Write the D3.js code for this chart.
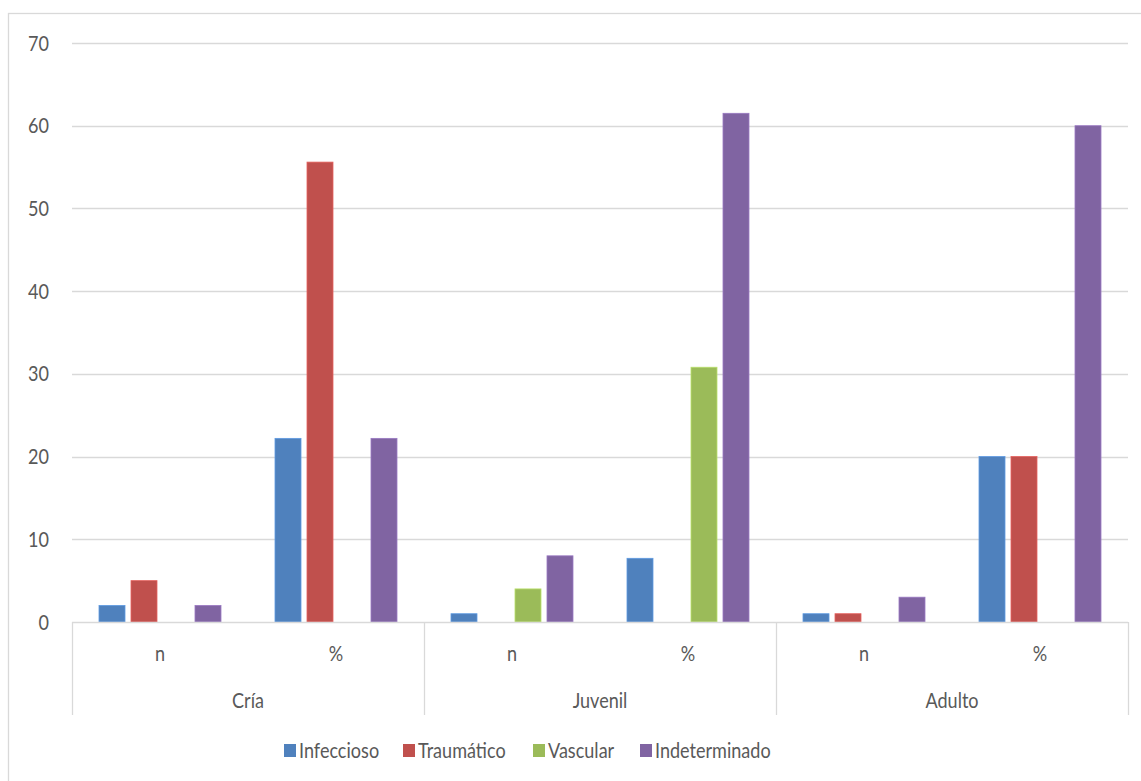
<!DOCTYPE html>
<html>
<head>
<meta charset="utf-8">
<script src="https://cdn.jsdelivr.net/npm/d3@7"></script>
<style>
  html, body { margin: 0; padding: 0; background: #fff; }
  svg { display: block; }
  text { font-family: Lato, "Open Sans", sans-serif; fill: #595959; }
</style>
</head>
<body>
<svg id="chart" width="1141" height="781"></svg>
<script>
// Age groups, each split into count (n) and percentage (%)
const groups = ["Cría", "Juvenil", "Adulto"];
const measures = ["n", "%"];
const series = ["Infeccioso", "Traumático", "Vascular", "Indeterminado"];
const colors = ["#4F81BD", "#C0504D", "#9BBB59", "#8064A2"];

// Values per series, ordered Cría n, Cría %, Juvenil n, Juvenil %, Adulto n, Adulto %
const infeccioso    = [2, 22.2, 1, 7.7, 1, 20];
const traumatico    = [5, 55.6, 0, 0, 1, 20];
const vascular      = [0, 0, 4, 30.8, 0, 0];
const indeterminado = [2, 22.2, 8, 61.5, 3, 60];

const yTicks = [0, 10, 20, 30, 40, 50, 60, 70];

const seriesValues = [infeccioso, traumatico, vascular, indeterminado];

const FONT = 21;
const NARROW = 0.86; // condense glyphs horizontally
const place = (x, y) => `translate(${x},${y}) scale(${NARROW},1)`;

const svg = d3.select("#chart");

// Outer chart frame
svg.append("rect")
  .attr("x", 8.5).attr("y", 13.5)
  .attr("width", 1145).attr("height", 780)
  .attr("fill", "none").attr("stroke", "#d9d9d9").attr("stroke-width", 1.3);

const plot = { left: 72, right: 1128, top: 43, bottom: 622 };

const y = d3.scaleLinear().domain([0, 70]).range([plot.bottom, plot.top]);

const xGroup = d3.scaleBand().domain(groups).range([plot.left, plot.right]);
const xMeasure = d3.scaleBand().domain(measures).range([0, xGroup.bandwidth()]);
const xSeries = d3.scaleBand().domain(series).range([0, xMeasure.bandwidth()])
  .paddingInner(0.1875).paddingOuter(0.84375);

// Horizontal gridlines
svg.append("g")
  .selectAll("line")
  .data(yTicks.filter(t => t > 0))
  .join("line")
  .attr("x1", plot.left).attr("x2", plot.right)
  .attr("y1", d => Math.round(y(d)) + 0.5).attr("y2", d => Math.round(y(d)) + 0.5)
  .attr("stroke", "#d9d9d9").attr("stroke-width", 1.3);

// Y axis labels
svg.append("g")
  .selectAll("text")
  .data(yTicks)
  .join("text")
  .attr("transform", d => place(49, y(d)))
  .attr("dy", "0.36em")
  .attr("text-anchor", "end")
  .attr("font-size", FONT)
  .text(d => d);

// Build flat list of bars
const bars = [];
groups.forEach((g, gi) => {
  measures.forEach((m, mi) => {
    const idx = gi * measures.length + mi;
    series.forEach((s, si) => {
      bars.push({ group: g, measure: m, series: s, color: colors[si], value: seriesValues[si][idx] });
    });
  });
});

svg.append("g")
  .selectAll("rect")
  .data(bars.filter(d => d.value > 0))
  .join("rect")
  .attr("x", d => xGroup(d.group) + xMeasure(d.measure) + xSeries(d.series))
  .attr("y", d => y(d.value))
  .attr("width", xSeries.bandwidth())
  .attr("height", d => y(0) - y(d.value))
  .attr("fill", d => d.color)
  .attr("stroke", d => d3.color(d.color).brighter(0.5))
  .attr("stroke-width", 0.8);

// Category axis baseline
svg.append("line")
  .attr("x1", plot.left).attr("x2", plot.right)
  .attr("y1", plot.bottom + 0.5).attr("y2", plot.bottom + 0.5)
  .attr("stroke", "#d9d9d9").attr("stroke-width", 1.3);

// Group dividers
const dividers = groups.map(g => xGroup(g)).concat([plot.right]);
svg.append("g")
  .selectAll("line")
  .data(dividers)
  .join("line")
  .attr("x1", d => Math.round(d) + 0.5).attr("x2", d => Math.round(d) + 0.5)
  .attr("y1", plot.bottom).attr("y2", 715)
  .attr("stroke", "#d9d9d9").attr("stroke-width", 1.3);

// Measure labels (n / %)
const measureLabels = [];
groups.forEach(g => measures.forEach(m => measureLabels.push({ g, m })));
svg.append("g")
  .selectAll("text")
  .data(measureLabels)
  .join("text")
  .attr("transform", d => place(xGroup(d.g) + xMeasure(d.m) + xMeasure.bandwidth() / 2, 653))
  .attr("dy", "0.36em")
  .attr("text-anchor", "middle")
  .attr("font-size", FONT)
  .text(d => d.m);

// Group labels
svg.append("g")
  .selectAll("text")
  .data(groups)
  .join("text")
  .attr("transform", d => place(xGroup(d) + xGroup.bandwidth() / 2, 700))
  .attr("dy", "0.36em")
  .attr("text-anchor", "middle")
  .attr("font-size", FONT)
  .text(d => d);

// Legend
const legendX = [284, 403, 533, 640];
const legend = svg.append("g")
  .selectAll("g")
  .data(series)
  .join("g")
  .attr("transform", (d, i) => `translate(${legendX[i]},744)`);
legend.append("rect")
  .attr("width", 12).attr("height", 13)
  .attr("fill", (d, i) => colors[i]);
legend.append("text")
  .attr("transform", place(15, 6.5))
  .attr("dy", "0.36em")
  .attr("font-size", FONT)
  .text(d => d);
</script>
</body>
</html>
